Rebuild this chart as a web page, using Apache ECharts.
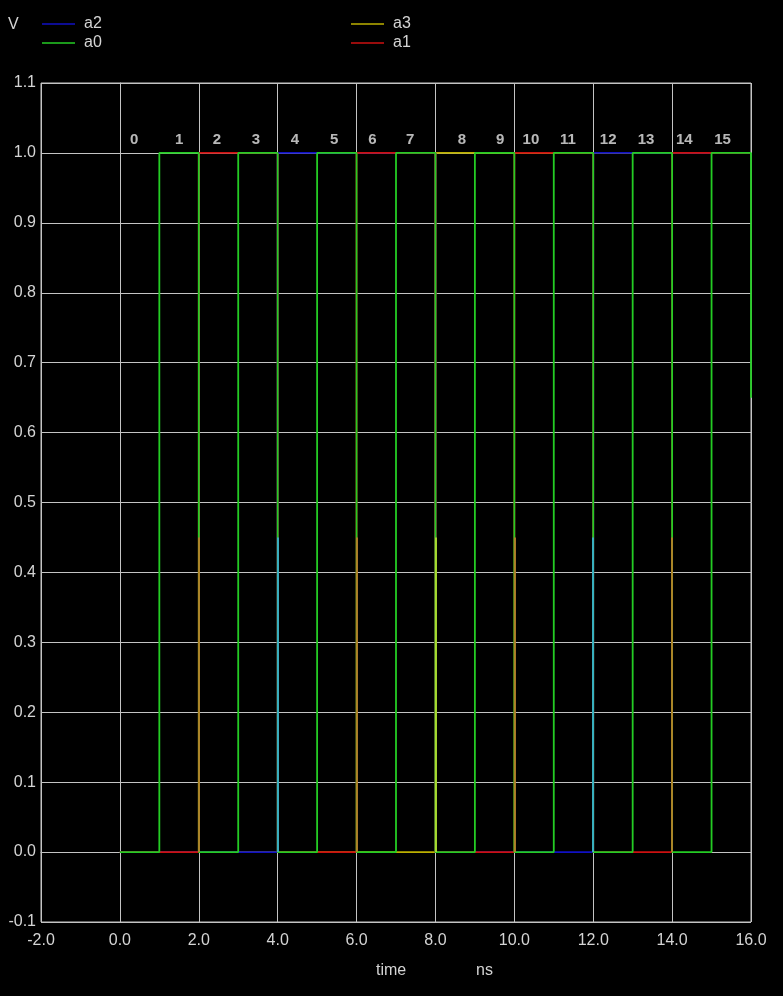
<!DOCTYPE html>
<html>
<head>
<meta charset="utf-8">
<script src="https://cdn.jsdelivr.net/npm/echarts@6/dist/echarts.min.js"></script>
<style>
html,body{margin:0;padding:0;background:#000;}
#chart{width:783px;height:996px;}
</style>
</head>
<body>
<div id="chart"></div>
<script>
// ---- data ----
var timeSteps = [0,1,2,3,4,5,6,7,8,9,10,11,12,13,14,15,16];
var a0Levels = [0,1,0,1,0,1,0,1,0,1,0,1,0,1,0,1];
var a1Levels = [0,0,1,1,0,0,1,1,0,0,1,1,0,0,1,1];
var a2Levels = [0,0,0,0,1,1,1,1,0,0,0,0,1,1,1,1];
var a3Levels = [0,0,0,0,0,0,0,0,1,1,1,1,1,1,1,1];
var a0EndValue = 0.65;   // a0 falling at the end of the simulation
var a1RiseTimes = [2,6,10,14];
var a2RiseTimes = [4,12];
var a3RiseTimes = [8];
var riseVisibleTop = 0.45;
var bitLabelX = [0.36,1.5,2.46,3.45,4.44,5.43,6.4,7.36,8.67,9.64,10.42,11.36,12.38,13.34,14.31,15.28];
var bitLabelText = ['0','1','2','3','4','5','6','7','8','9','10','11','12','13','14','15'];
var bitLabelY = 1.018;
var xTicks = {min:-2, max:16, interval:2};
var yTicks = {min:-0.1, max:1.1, interval:0.1};

var colors = {a0:'#24cc24', a1:'#cc1010', a2:'#1010c4', a3:'#bcb000'};
var edgeColors = {a1:'#b8802a', a2:'#3ab0d0', a3:'#b0e030'};
var gridColor = '#c4c4c4';
var textColor = '#d4d4d4';

function buildWave(levels, endValue){
  var pts = [];
  for (var i = 0; i < levels.length; i++) {
    pts.push([timeSteps[i], levels[i]]);
    pts.push([timeSteps[i+1], levels[i]]);
  }
  if (endValue !== undefined) pts.push([timeSteps[timeSteps.length-1], endValue]);
  return pts;
}
function buildEdges(times){
  return times.map(function(t){ return {coords:[[t,0],[t,riseVisibleTop]]}; });
}
function fmt(v){ if (Math.abs(v) < 1e-9) v = 0; return v.toFixed(1); }

var chart = echarts.init(document.getElementById('chart'), null, {renderer:'canvas'});
var lineBase = {type:'line', showSymbol:false, symbol:'none', animation:false};
var LW = 1.8;

chart.setOption({
  backgroundColor:'#000',
  animation:false,
  grid:{left:41, right:32, top:83, bottom:74, show:true, borderColor:gridColor, borderWidth:1},
  legend:[
    {data:['a2','a0'], orient:'vertical', left:42, top:16, padding:0, itemGap:3, icon:'rect',
     itemWidth:33, itemHeight:1.5, selectedMode:false,
     textStyle:{color:textColor, fontSize:16, fontFamily:'Liberation Sans', padding:[0,0,0,4]}},
    {data:['a3','a1'], orient:'vertical', left:351, top:16, padding:0, itemGap:3, icon:'rect',
     itemWidth:33, itemHeight:1.5, selectedMode:false,
     textStyle:{color:textColor, fontSize:16, fontFamily:'Liberation Sans', padding:[0,0,0,4]}}
  ],
  xAxis:{type:'value', min:xTicks.min, max:xTicks.max, interval:xTicks.interval,
    axisLine:{show:true, lineStyle:{color:gridColor, width:1}},
    axisTick:{show:false},
    axisLabel:{color:textColor, fontSize:16, fontFamily:'Liberation Sans', margin:11, formatter:fmt},
    splitLine:{show:true, lineStyle:{color:gridColor, width:1}}},
  yAxis:{type:'value', min:yTicks.min, max:yTicks.max, interval:yTicks.interval,
    axisLine:{show:true, lineStyle:{color:gridColor, width:1}},
    axisTick:{show:false},
    axisLabel:{color:textColor, fontSize:16, fontFamily:'Liberation Sans', margin:5, formatter:fmt},
    splitLine:{show:true, lineStyle:{color:gridColor, width:1}}},
  graphic:[
    {type:'text', left:8, top:17, style:{text:'V', fill:textColor, font:'16px "Liberation Sans"'}},
    {type:'text', left:376, top:963, style:{text:'time', fill:textColor, font:'16px "Liberation Sans"'}},
    {type:'text', left:476, top:963, style:{text:'ns', fill:textColor, font:'16px "Liberation Sans"'}}
  ],
  series:[
    Object.assign({}, lineBase, {name:'a3', z:2, data:buildWave(a3Levels), color:colors.a3, lineStyle:{width:LW, color:colors.a3}}),
    Object.assign({}, lineBase, {name:'a2', z:3, data:buildWave(a2Levels), color:colors.a2, lineStyle:{width:LW, color:colors.a2}}),
    Object.assign({}, lineBase, {name:'a1', z:4, data:buildWave(a1Levels), color:colors.a1, lineStyle:{width:LW, color:colors.a1}}),
    Object.assign({}, lineBase, {name:'a0', z:5, data:buildWave(a0Levels, a0EndValue), color:colors.a0, lineStyle:{width:LW, color:colors.a0}}),
    {type:'lines', coordinateSystem:'cartesian2d', z:6, silent:true, animation:false,
     lineStyle:{color:edgeColors.a1, width:LW, opacity:1}, data:buildEdges(a1RiseTimes)},
    {type:'lines', coordinateSystem:'cartesian2d', z:6, silent:true, animation:false,
     lineStyle:{color:edgeColors.a2, width:LW, opacity:1}, data:buildEdges(a2RiseTimes)},
    {type:'lines', coordinateSystem:'cartesian2d', z:6, silent:true, animation:false,
     lineStyle:{color:edgeColors.a3, width:LW, opacity:1}, data:buildEdges(a3RiseTimes)},
    {type:'scatter', z:7, symbolSize:0, silent:true, animation:false,
     data:bitLabelX.map(function(x,i){ return {value:[x, bitLabelY], name:bitLabelText[i]}; }),
     label:{show:true, position:'inside', formatter:'{b}', color:'#e6e6e6', fontSize:15,
            fontWeight:'bold', fontFamily:'Liberation Sans'}}
  ]
});
</script>
</body>
</html>
